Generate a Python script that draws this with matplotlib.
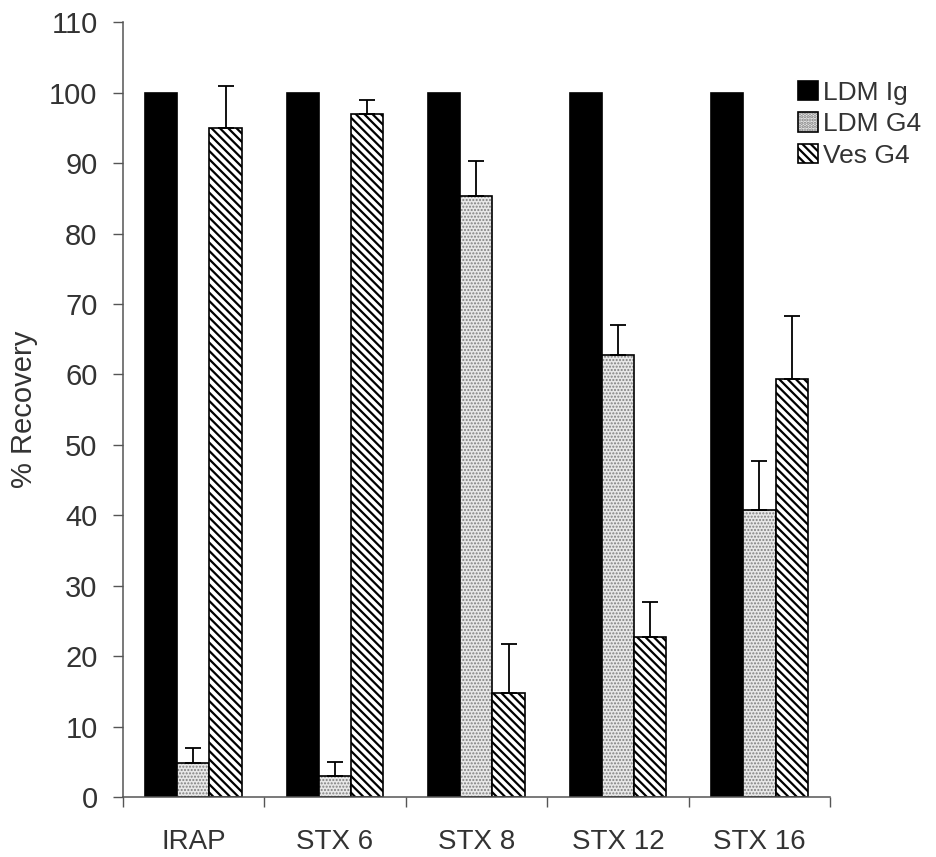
import numpy as np
import matplotlib
matplotlib.use("Agg")
import matplotlib.pyplot as plt

plt.rcParams['font.family'] = ['Liberation Sans', 'DejaVu Sans']

# recovery of each marker in the three fractions (% of LDM Ig)
proteins = ["IRAP", "STX 6", "STX 8", "STX 12", "STX 16"]
ldm_ig = [100, 100, 100, 100, 100]
ldm_g4 = [4.8, 3.0, 85.3, 62.8, 40.7]
ldm_g4_err = [2.1, 2.0, 5.0, 4.2, 7.0]
ves_g4 = [95.0, 97.0, 14.7, 22.7, 59.3]
ves_g4_err = [6.0, 2.0, 7.0, 5.0, 9.0]

x = np.arange(len(proteins))
w = 0.227
txt = '#333333'

fig = plt.figure(figsize=(9.36, 8.57), dpi=100)
ax = fig.add_axes([0.131, 0.070, 0.756, 0.904])

h_ig = ax.bar(x - w, ldm_ig, w, color='black', edgecolor='black', lw=1.2)

# light stipple: grey dots drawn first, black outline on top
plt.rcParams['hatch.linewidth'] = 1.0
h_dots = ax.bar(x, ldm_g4, w, color='#e8e8e8', edgecolor='#808080', lw=0,
                hatch='.....')
h_out = ax.bar(x, ldm_g4, w, fill=False, edgecolor='black', lw=1.2)

plt.rcParams['hatch.linewidth'] = 1.6
h_ves = ax.bar(x + w, ves_g4, w, color='white', edgecolor='black', lw=1.2,
               hatch='\\\\\\\\')

# upper error bars only
ax.errorbar(x, ldm_g4, yerr=[np.zeros(len(x)), ldm_g4_err], fmt='none',
            ecolor='black', elinewidth=1.3, capsize=6, capthick=1.3)
ax.errorbar(x + w, ves_g4, yerr=[np.zeros(len(x)), ves_g4_err], fmt='none',
            ecolor='black', elinewidth=1.3, capsize=6, capthick=1.3)

ax.set_xlim(-0.5, len(proteins) - 0.5)
ax.set_ylim(0, 110)
ax.set_yticks(range(0, 111, 10))
ax.set_xticks(x)
ax.set_xticklabels(proteins)
ax.set_xticks(np.arange(-0.5, len(proteins), 1), minor=True)
ax.tick_params(axis='x', which='major', length=0, pad=23, labelsize=20, labelcolor=txt)
ax.tick_params(axis='x', which='minor', length=7, width=1, color='#555555', direction='out')
ax.tick_params(axis='y', length=7, width=1, color='#555555', labelsize=21,
               labelcolor=txt, pad=11)

for s in ['top', 'right']:
    ax.spines[s].set_visible(False)
for s in ['left', 'bottom']:
    ax.spines[s].set_color('#555555')
    ax.spines[s].set_linewidth(1.1)

ax.set_ylabel('% Recovery', fontsize=21, color=txt, labelpad=8)

fig.legend([h_ig[0], (h_dots[0], h_out[0]), h_ves[0]],
           ['LDM Ig', 'LDM G4', 'Ves G4'],
           loc='upper left', bbox_to_anchor=(0.841, 0.918), frameon=False,
           fontsize=19, handlelength=0.75, handleheight=0.75, handletextpad=0.2,
           labelspacing=0.28, labelcolor=txt, borderaxespad=0)

fig.savefig('out.png', dpi=100, facecolor='white')
